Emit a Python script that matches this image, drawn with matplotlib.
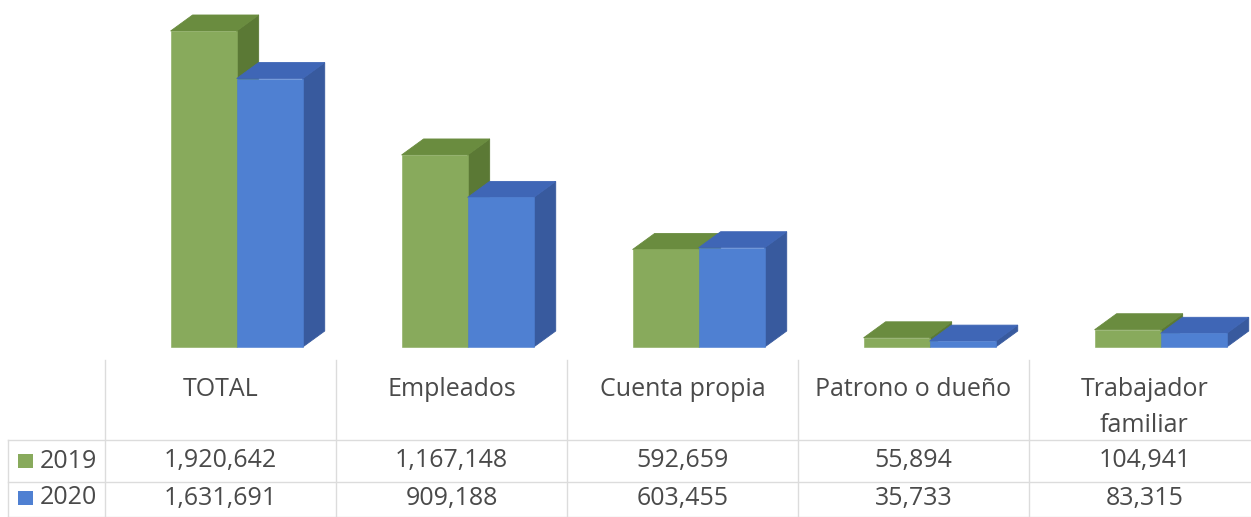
import matplotlib.pyplot as plt
from matplotlib.patches import Polygon, Rectangle
from matplotlib.lines import Line2D

# datos
categorias = ['TOTAL', 'Empleados', 'Cuenta propia', 'Patrono o dueño', 'Trabajador\nfamiliar']
anios = ['2019', '2020']
valores_2019 = [1920642, 1167148, 592659, 55894, 104941]
valores_2020 = [1631691, 909188, 603455, 35733, 83315]

plt.rcParams['font.family'] = ['Open Sans', 'DejaVu Sans']

W, H = 1251, 517
fig = plt.figure(figsize=(W / 100, H / 100), dpi=100)

# colores: frente, arriba, lado
verde = ('#88AA5C', '#6A8C3F', '#5B7935')
azul = ('#4F80D2', '#3F66B6', '#385A9E')
txt_color = '#4A4A4A'
linea = '#DCDCDC'

col_left, col_w, base_y = 105, 231, 347
ymax = 2109000
ax = fig.add_axes([col_left / W, (H - base_y) / H, (W - col_left) / W, base_y / H])
ax.set_xlim(-0.5, -0.5 + (W - col_left) / col_w)
ax.set_ylim(0, ymax)
ax.axis('off')

bw = 0.286
dx = 22 / col_w
dy = ymax / base_y * 16


def barra3d(x0, v, cols):
    front, top, side = cols
    ax.add_patch(Polygon([(x0 + bw, 0), (x0 + bw + dx, dy), (x0 + bw + dx, v + dy), (x0 + bw, v)],
                         closed=True, facecolor=side, edgecolor=side, lw=0.6, clip_on=False))
    ax.add_patch(Polygon([(x0, v), (x0 + bw, v), (x0 + bw + dx, v + dy), (x0 + dx, v + dy)],
                         closed=True, facecolor=top, edgecolor=top, lw=0.6, clip_on=False))
    ax.bar(x0, v, bw, align='edge', color=front, edgecolor=front, linewidth=0.4, clip_on=False)


for i in range(len(categorias)):
    x_verde = i - 0.216
    barra3d(x_verde, valores_2019[i], verde)
    barra3d(x_verde + bw, valores_2020[i], azul)

# tabla de datos
tab = fig.add_axes([0, 0, 1, 1], zorder=-1)
tab.set_xlim(0, W)
tab.set_ylim(H, 0)
tab.axis('off')

fs = 18
row_y = [440, 482, 517]
for y in row_y:
    tab.add_line(Line2D([8, W], [y, y], color=linea, lw=1))
tab.add_line(Line2D([8, 8], [440, H], color=linea, lw=1))
for k in range(len(categorias)):
    x = col_left + k * col_w
    tab.add_line(Line2D([x, x], [360, H], color=linea, lw=1))

for k, cat in enumerate(categorias):
    cx = col_left + (k + 0.5) * col_w
    for j, parte in enumerate(cat.split('\n')):
        tab.text(cx, 390 + 35 * j, parte, ha='center', va='center', fontsize=fs, color=txt_color)

for fila, (anio, vals, cols) in enumerate([(anios[0], valores_2019, verde), (anios[1], valores_2020, azul)]):
    yc = 461 + 37 * fila
    tab.add_patch(Rectangle((18, yc - 7), 15, 14, facecolor=cols[0], edgecolor='none'))
    tab.text(40, yc, anio, ha='left', va='center', fontsize=fs, color=txt_color)
    for k, v in enumerate(vals):
        cx = col_left + (k + 0.5) * col_w
        tab.text(cx, yc, f'{v:,}', ha='center', va='center', fontsize=fs, color=txt_color)

fig.savefig('out.png', dpi=100, facecolor='white')
